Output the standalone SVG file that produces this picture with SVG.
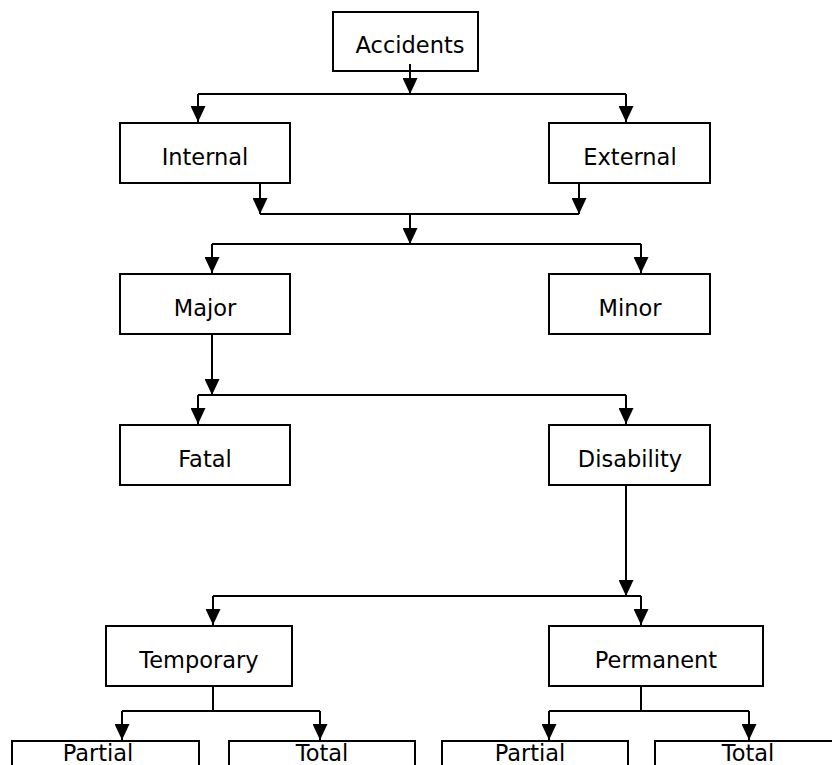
<svg xmlns="http://www.w3.org/2000/svg" width="832" height="765" viewBox="0 0 832 765">
<defs>
<marker id="ah" viewBox="0 0 16 15" refX="16" refY="7.5" markerWidth="16" markerHeight="15" markerUnits="userSpaceOnUse" orient="auto">
<path d="M0,0 L16,7.5 L0,15 Z" fill="#000"/>
</marker>
<style>
.box{fill:#fff;stroke:#000;stroke-width:2}
.lbl{font-family:"DejaVu Sans","Open Sans",sans-serif;font-size:22.5px;fill:#000;text-anchor:middle}
.c{fill:none;stroke:#000;stroke-width:2}
.a{marker-end:url(#ah)}
</style>
</defs>
<rect width="832" height="765" fill="#fff"/>
<g id="accidents"><rect class="box" x="333" y="12" width="145" height="59"/><text class="lbl" x="410" y="53">Accidents</text></g>
<g id="internal"><rect class="box" x="120" y="123" width="170" height="60"/><text class="lbl" x="205" y="165">Internal</text></g>
<g id="external"><rect class="box" x="549" y="123" width="161" height="60"/><text class="lbl" x="630" y="165">External</text></g>
<g id="major"><rect class="box" x="120" y="274" width="170" height="60"/><text class="lbl" x="205" y="316">Major</text></g>
<g id="minor"><rect class="box" x="549" y="274" width="161" height="60"/><text class="lbl" x="630" y="316">Minor</text></g>
<g id="fatal"><rect class="box" x="120" y="425" width="170" height="60"/><text class="lbl" x="205" y="467">Fatal</text></g>
<g id="disability"><rect class="box" x="549" y="425" width="161" height="60"/><text class="lbl" x="630" y="467">Disability</text></g>
<g id="temporary"><rect class="box" x="106" y="626" width="186" height="60"/><text class="lbl" x="199" y="668">Temporary</text></g>
<g id="permanent"><rect class="box" x="549" y="626" width="214" height="60"/><text class="lbl" x="656" y="668">Permanent</text></g>
<g id="partial1"><rect class="box" x="12" y="741" width="187" height="40"/><text class="lbl" x="98" y="761">Partial</text></g>
<g id="total1"><rect class="box" x="229" y="741" width="186" height="40"/><text class="lbl" x="322" y="761">Total</text></g>
<g id="partial2"><rect class="box" x="442" y="741" width="186" height="40"/><text class="lbl" x="530" y="761">Partial</text></g>
<g id="total2"><rect class="box" x="655" y="741" width="190" height="40"/><text class="lbl" x="748" y="761">Total</text></g>
<g id="connectors">
<path class="c a" d="M410,64 V94"/>
<path class="c" d="M198,94 H626"/>
<path class="c a" d="M198,94 V122"/>
<path class="c a" d="M626,94 V122"/>
<path class="c a" d="M260,183 V214"/>
<path class="c a" d="M579,183 V214"/>
<path class="c" d="M260,214 H579"/>
<path class="c a" d="M410,214 V244"/>
<path class="c" d="M212,244 H641"/>
<path class="c a" d="M212,244 V273"/>
<path class="c a" d="M641,244 V273"/>
<path class="c a" d="M212,334 V395"/>
<path class="c" d="M198,395 H626"/>
<path class="c a" d="M198,395 V424"/>
<path class="c a" d="M626,395 V424"/>
<path class="c a" d="M626,485 V596"/>
<path class="c" d="M213,596 H641"/>
<path class="c a" d="M213,596 V625"/>
<path class="c a" d="M641,596 V625"/>
<path class="c" d="M213,686 V711"/>
<path class="c" d="M122,711 H320"/>
<path class="c a" d="M122,711 V740"/>
<path class="c a" d="M320,711 V740"/>
<path class="c" d="M641,686 V711"/>
<path class="c" d="M549,711 H749"/>
<path class="c a" d="M549,711 V740"/>
<path class="c a" d="M749,711 V740"/>
</g>
</svg>
